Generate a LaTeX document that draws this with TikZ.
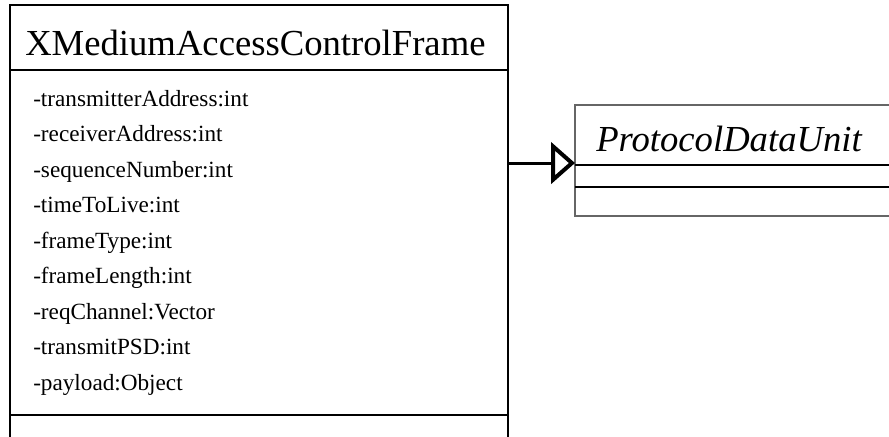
\documentclass[tikz,border=0pt]{standalone}
\usepackage{fontspec}
\setmainfont{Liberation Serif}
\usetikzlibrary{arrows.meta}
\begin{document}
\begin{tikzpicture}[x=0.75pt,y=-0.75pt,
  classbox/.style={draw=black, line width=1.5pt, anchor=north west, inner sep=0pt, outer sep=0pt},
  pdubox/.style={draw=black!60, line width=1.1pt, anchor=north west, inner sep=0pt, outer sep=0pt},
  divider/.style={draw=black, line width=1.5pt},
  titletext/.style={font=\fontsize{27.5}{33}\selectfont, anchor=base west, inner sep=0pt},
  attrtext/.style={font=\fontsize{17.4}{21}\selectfont, anchor=base west, inner sep=0pt},
  generalization/.style={draw=black, line width=2.25pt,
    -{Triangle[open, length=18pt, width=31pt, line width=3pt, line join=miter]}}]
\useasboundingbox (0,0) rectangle (889,436);
\clip (0,0) rectangle (889,436);

% left class
\node[classbox, minimum width=373.5pt, minimum height=345pt] (mac) at (10,5) {};
\draw[divider] (10,70) -- (508,70);
\draw[divider] (10,415) -- (508,415);
\node[titletext] (mactitle) at (25,55) {XMediumAccessControlFrame};
\foreach \t [count=\i] in {-transmitterAddress:int,-receiverAddress:int,-sequenceNumber:int,
  -timeToLive:int,-frameType:int,-frameLength:int,-reqChannel:Vector,-transmitPSD:int,-payload:Object}
  \node[attrtext] (attr\i) at (33,{106+35.5*(\i-1)}) {\t};

% right class
\node[pdubox, minimum width=250pt, minimum height=83.25pt] (pdu) at (575,105) {};
\draw[divider] (575,165) -- (900,165);
\draw[divider] (575,187) -- (900,187);
\node[titletext, font=\fontsize{27.5}{33}\selectfont\itshape] (pdutitle) at (596,151) {ProtocolDataUnit};

% generalization
\draw[generalization] ([yshift=-1.9pt]mac.east |- pdu.west) -- ([yshift=-1.9pt]pdu.west);
\end{tikzpicture}
\end{document}
